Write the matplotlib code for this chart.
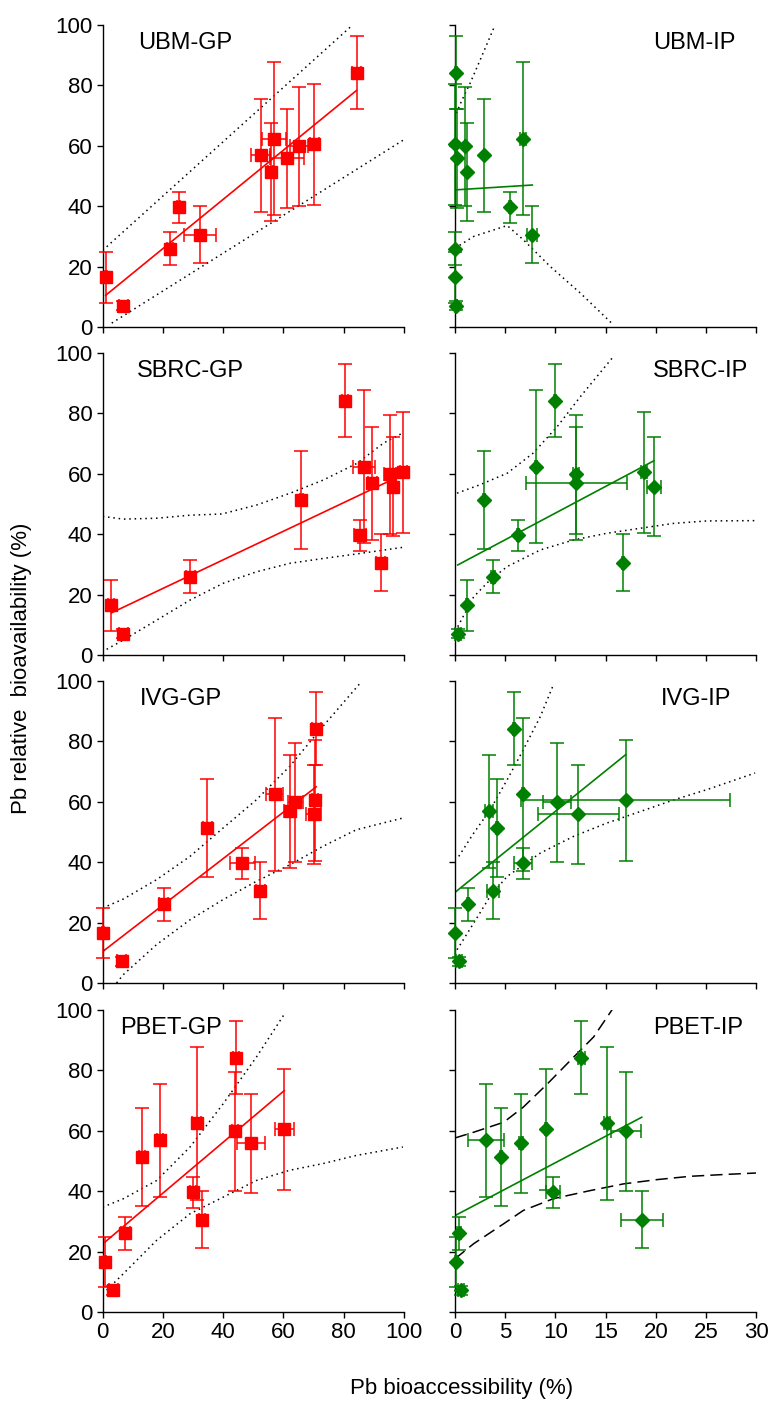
import numpy as np
import matplotlib.pyplot as plt

plt.rcParams['font.family'] = ['Liberation Sans', 'DejaVu Sans']

# Pb relative bioavailability (%) for the 12 soils, same in every panel
rba = [16.5, 7.1, 26.0, 39.6, 30.6, 56.8, 51.4, 62.4, 55.8, 59.8, 60.5, 84.2]
rba_err = [8.4, 1.5, 5.4, 5.2, 9.4, 18.7, 16.2, 25.4, 16.5, 19.7, 20.0, 12.1]

# bioaccessibility (%) per method, gastric (GP) and intestinal (IP) phase
ubm_gp = [1.0, 6.9, 22.4, 25.3, 32.4, 52.5, 55.8, 56.9, 61.2, 65.3, 70.2, 84.3]
ubm_gp_err = [0.3, 1.5, 1.0, 0.5, 5.3, 3.1, 0.8, 4.1, 5.5, 3.0, 1.5, 1.5]
ubm_ip = [0.0, 0.07, 0.0, 5.5, 7.7, 2.9, 1.2, 6.8, 0.2, 1.0, 0.03, 0.1]
ubm_ip_err = [0.0, 0.1, 0.0, 0.1, 0.5, 0.0, 0.0, 0.3, 0.0, 0.0, 0.0, 0.1]

sbrc_gp = [2.9, 6.9, 29.0, 85.4, 92.4, 89.5, 65.9, 86.9, 96.5, 95.5, 99.9, 80.4]
sbrc_gp_err = [1.0, 1.5, 1.5, 2.0, 1.5, 1.5, 0.5, 3.7, 0.5, 2.0, 1.0, 1.0]
sbrc_ip = [1.2, 0.27, 3.75, 6.3, 16.7, 12.1, 2.9, 8.1, 19.8, 12.1, 18.8, 10.0]
sbrc_ip_err = [0.1, 0.3, 0.2, 0.1, 0.1, 5.0, 0.1, 0.1, 0.7, 0.3, 0.3, 0.1]

ivg_gp = [0.2, 6.3, 20.3, 46.4, 52.4, 62.1, 34.7, 57.1, 70.1, 64.0, 70.4, 70.9]
ivg_gp_err = [0.3, 1.5, 1.5, 4.1, 1.5, 2.0, 1.5, 2.8, 2.5, 2.5, 1.0, 1.5]
ivg_ip = [0.0, 0.43, 1.3, 6.8, 3.75, 3.35, 4.15, 6.8, 12.3, 10.2, 17.0, 5.85]
ivg_ip_err = [0.0, 0.3, 0.1, 0.9, 0.6, 0.4, 0.1, 0.1, 4.0, 1.4, 10.4, 0.1]

pbet_gp = [0.8, 3.5, 7.5, 30.1, 33.0, 19.0, 12.9, 31.2, 49.3, 44.0, 60.3, 44.4]
pbet_gp_err = [0.3, 1.5, 1.5, 1.0, 1.0, 1.0, 1.0, 1.5, 4.7, 1.0, 3.1, 1.0]
pbet_ip = [0.1, 0.6, 0.37, 9.8, 18.6, 3.1, 4.55, 15.1, 6.6, 17.0, 9.1, 12.6]
pbet_ip_err = [0.1, 0.3, 0.2, 0.7, 2.1, 1.8, 0.1, 0.3, 0.2, 1.5, 0.1, 0.3]

# regression lines (slope, intercept)
fits = {
    'UBM-GP': (0.814, 9.7), 'UBM-IP': (0.21, 45.4),
    'SBRC-GP': (0.473, 12.6), 'SBRC-IP': (1.765, 29.35),
    'IVG-GP': (0.769, 10.4), 'IVG-IP': (2.68, 30.0),
    'PBET-GP': (0.842, 22.5), 'PBET-IP': (1.75, 31.9),
}

# confidence bands: (upper x, upper y, lower x, lower y)
bands = {
    'UBM-GP': ([0, 83], [25.4, 100], [3, 100], [1.3, 62]),
    'UBM-IP': ([0.13, 0.7, 1.5, 2.5, 3.85], [70.8, 75.2, 80.7, 88.4, 98.9],
               [0, 1.86, 5.2, 6.8, 9.5, 12.5, 15.6], [26.1, 30, 33.6, 28.9, 20, 11.2, 1.3]),
    'SBRC-GP': ([0, 6.9, 18, 29, 39.6, 51.2, 62.3, 73.4, 84.5, 93.3, 100],
                [45.9, 45.0, 45.3, 46.3, 46.7, 49.7, 53.6, 58.0, 63.5, 70.2, 73.7],
                [1.3, 6.9, 18, 29, 40.1, 51.2, 62.3, 73.4, 84.5, 100],
                [1.9, 5.0, 11.6, 18.2, 23.8, 27.6, 30.4, 32.0, 33.5, 35.7]),
    'SBRC-IP': ([0.2, 2.5, 5.2, 7.8, 10.2, 12.5, 15.8],
                [53.6, 56.4, 60.2, 66.9, 75.7, 85.6, 98.9],
                [0.27, 1.86, 3.5, 5.2, 8.5, 11.8, 15.1, 18.5, 21.8, 25.1, 29.9],
                [9.4, 19.3, 24.9, 29.3, 34.8, 38.1, 40.3, 42.0, 43.6, 44.4, 44.5]),
    'IVG-GP': ([0, 6.9, 17.9, 29, 40, 51, 62.1, 73.1, 85.3],
               [24.8, 27.8, 34.2, 41.9, 51.3, 60.6, 71.7, 84.9, 99.0],
               [4.6, 6.9, 17.9, 29, 40, 51, 62.1, 73.1, 84.2, 99.7],
               [0, 2.8, 12.7, 20.9, 27.6, 33.6, 39.1, 45.2, 50.7, 54.6]),
    'IVG-IP': ([0.37, 1.86, 3.5, 5.2, 6.8, 8.5, 9.8],
               [41.9, 49.6, 57.3, 67.3, 77.2, 88.2, 98.7],
               [0.2, 1.86, 3.5, 5.2, 8.5, 11.8, 15.1, 18.5, 21.8, 25.1, 29.9],
               [11.0, 19.8, 28.7, 35.3, 43.0, 48.5, 52.9, 56.8, 60.6, 64.0, 69.5]),
    'PBET-GP': ([0, 6.9, 17.9, 29, 40, 51, 60.4],
                [34.7, 37.5, 43.5, 54.6, 68.9, 84.3, 98.7],
                [1.3, 6.9, 17.9, 29, 40, 51, 62.1, 73.1, 84.2, 99.7],
                [7.2, 12.7, 23.7, 32.5, 38.0, 43.5, 46.9, 49.1, 51.8, 54.6]),
    'PBET-IP': ([0, 1.86, 4.85, 6.8, 9.2, 11.8, 13.8, 15.7],
                [57.6, 59.5, 62.8, 67.8, 75.5, 84.3, 91.0, 100.3],
                [0, 1.86, 4.85, 6.8, 9.8, 13.5, 16.8, 20.1, 23.4, 26.8, 30],
                [17.6, 22.6, 29.2, 33.6, 37.5, 40.2, 42.4, 43.8, 44.9, 45.5, 46.0]),
}

rows = [
    ('UBM-GP', ubm_gp, ubm_gp_err, 'UBM-IP', ubm_ip, ubm_ip_err),
    ('SBRC-GP', sbrc_gp, sbrc_gp_err, 'SBRC-IP', sbrc_ip, sbrc_ip_err),
    ('IVG-GP', ivg_gp, ivg_gp_err, 'IVG-IP', ivg_ip, ivg_ip_err),
    ('PBET-GP', pbet_gp, pbet_gp_err, 'PBET-IP', pbet_ip, pbet_ip_err),
]
title_x_gp = [11.7, 11.4, 12.4, 5.8]
title_x_ip = [19.7, 19.7, 20.5, 19.7]

fig = plt.figure(figsize=(7.74, 14.03), dpi=100)
lefts = [0.1327, 0.5879]
bottoms = [0.7669, 0.5331, 0.2994, 0.0649]
w, h = 0.389, 0.2153


def draw_panel(ax, name, x, xerr, color, marker, ms, xmax, ticks, title_x, band_ls):
    ux, uy, lx, ly = bands[name]
    ax.plot(ux, uy, color='black', lw=1.1, ls=band_ls, zorder=1)
    ax.plot(lx, ly, color='black', lw=1.1, ls=band_ls, zorder=1)
    slope, icpt = fits[name]
    xs = np.array([min(x), max(x)])
    ax.plot(xs, slope * xs + icpt, color=color, lw=1.2, zorder=2)
    eb = ax.errorbar(x, rba, xerr=xerr, yerr=rba_err, fmt=marker, color=color,
                     ms=ms, mec=color, ecolor=color, elinewidth=1.1, capsize=5,
                     capthick=1.1, zorder=3)
    for art in eb.get_children():
        art.set_clip_on(False)
    ax.set_xlim(0, xmax)
    ax.set_ylim(0, 100)
    ax.set_xticks(ticks)
    ax.set_yticks(range(0, 101, 20))
    for s in ['top', 'right']:
        ax.spines[s].set_visible(False)
    for s in ['left', 'bottom']:
        ax.spines[s].set_linewidth(1.0)
    ax.tick_params(direction='out', length=4, width=1, labelsize=16)
    ax.text(title_x, 94, name, fontsize=17, ha='left', va='center')


for i, (gname, gx, gerr, iname, ix, ierr) in enumerate(rows):
    ax1 = fig.add_axes([lefts[0], bottoms[i], w, h])
    draw_panel(ax1, gname, gx, gerr, '#ff0000', 's', 8, 100,
               range(0, 101, 20), title_x_gp[i], (0, (1, 2.5)))
    ax2 = fig.add_axes([lefts[1], bottoms[i], w, h])
    ls = (0, (8, 4)) if iname == 'PBET-IP' else (0, (1, 2.5))
    draw_panel(ax2, iname, ix, ierr, '#008000', 'D', 7, 30,
               range(0, 31, 5), title_x_ip[i], ls)
    ax2.tick_params(labelleft=False)
    if i < 3:
        ax1.tick_params(labelbottom=False)
        ax2.tick_params(labelbottom=False)

fig.text(0.028, 0.524, 'Pb relative  bioavailability (%)', rotation=90,
         ha='center', va='center', fontsize=16)
fig.text(0.596, 0.01, 'Pb bioaccessibility (%)', ha='center', va='center',
         fontsize=16)

fig.savefig('out.png', dpi=100)
